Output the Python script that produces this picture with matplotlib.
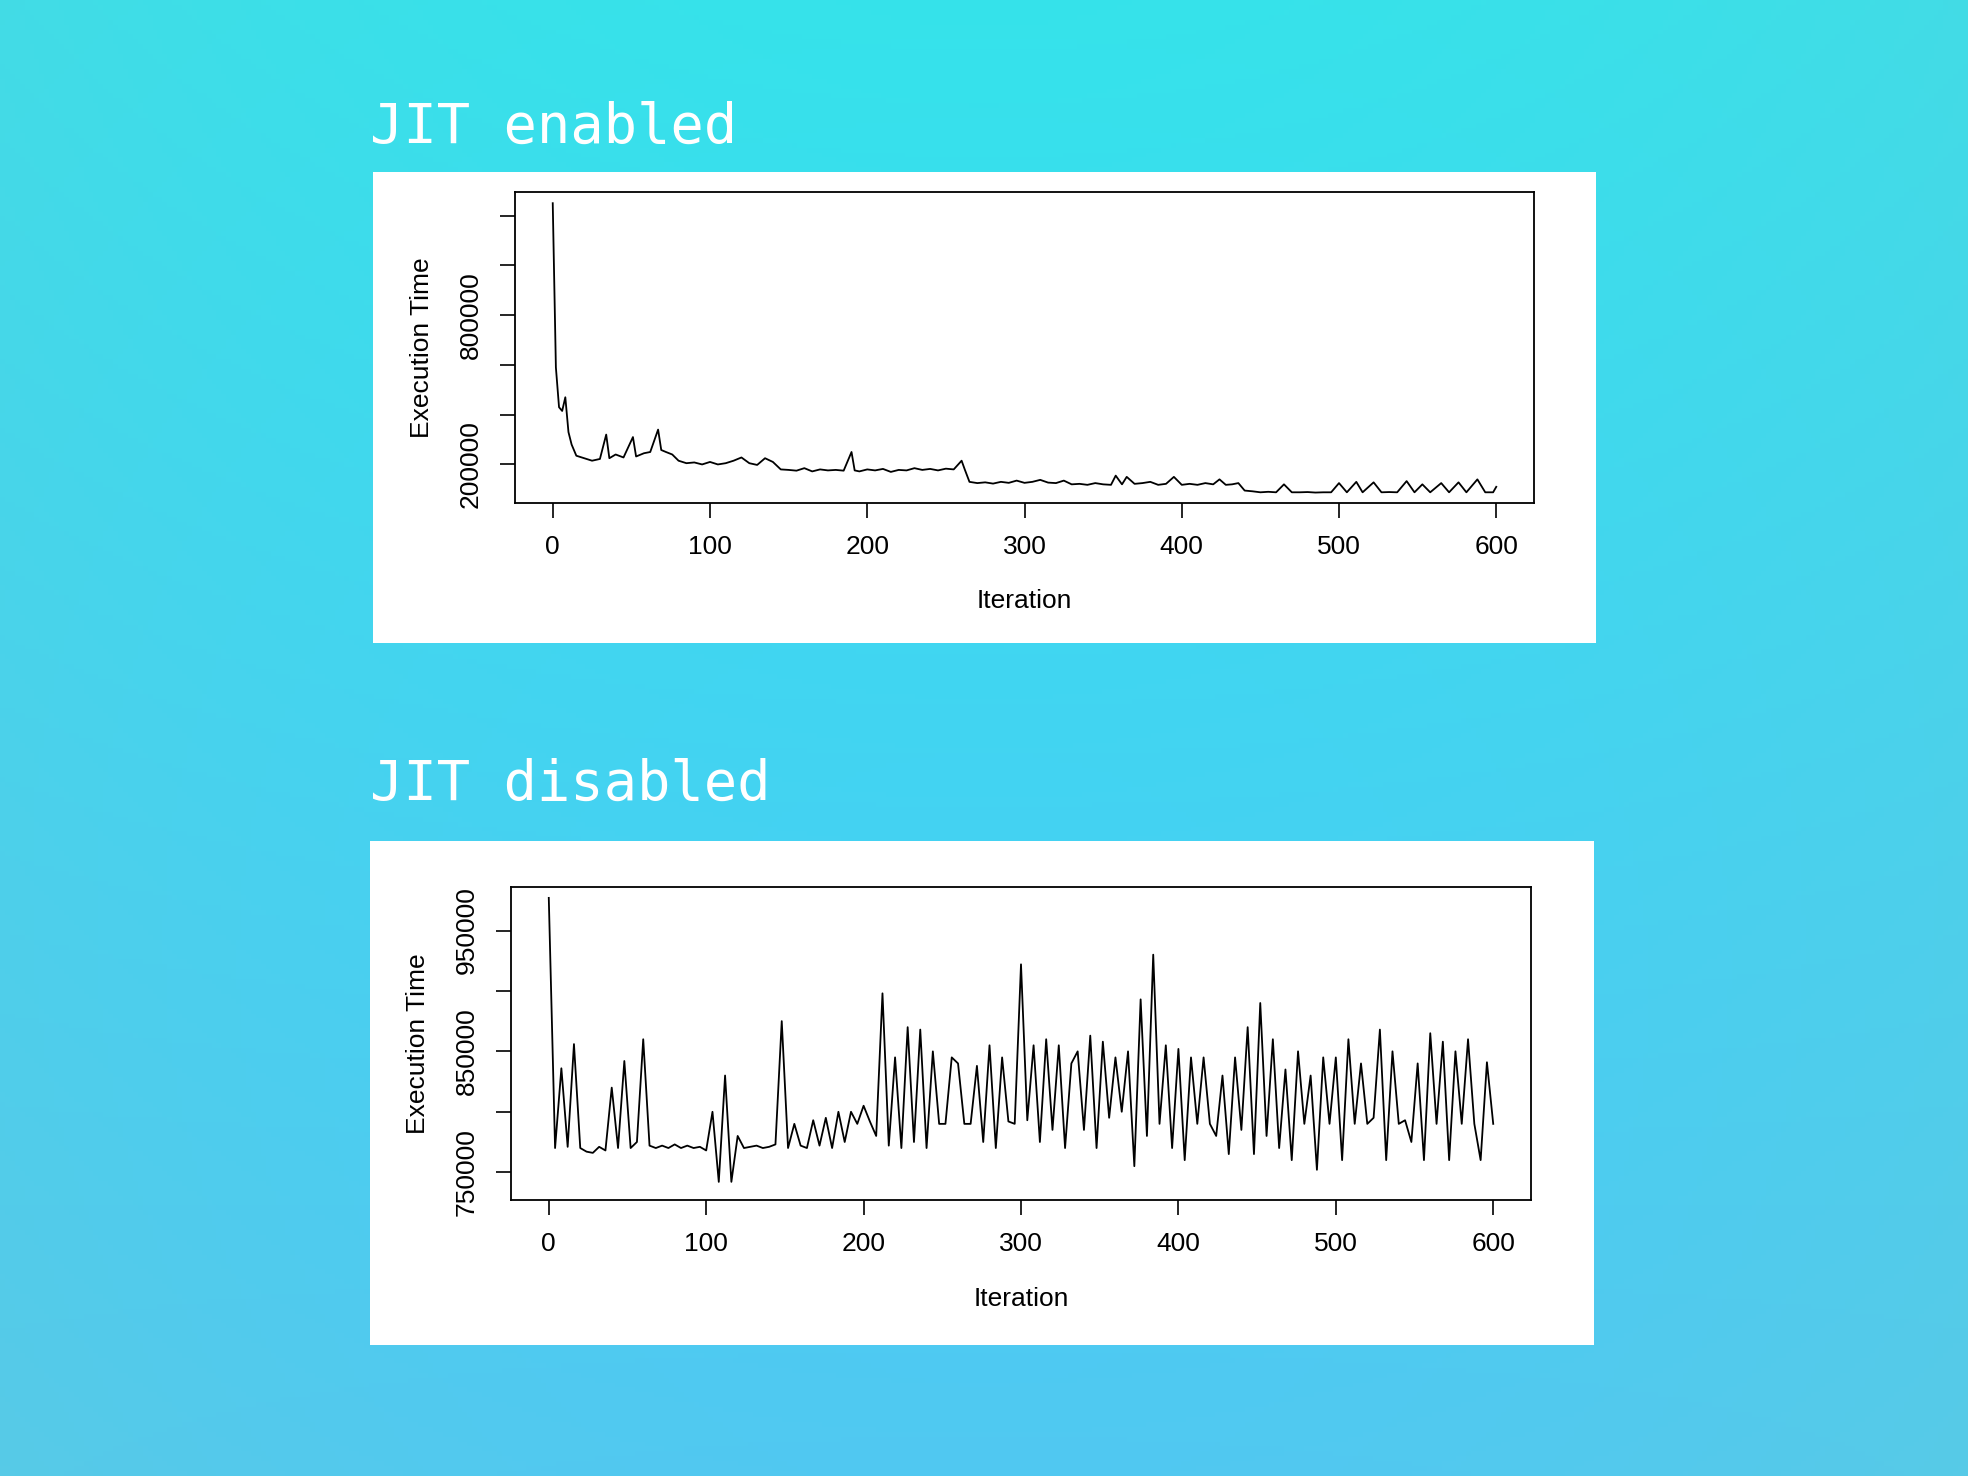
import numpy as np
import matplotlib
matplotlib.use("Agg")
import matplotlib.pyplot as plt
from matplotlib.patches import Rectangle

# ---- data (values in thousands of time units) ----
jit_on_iter = [0, 2, 4, 6, 8, 10, 12, 15, 20, 25, 30, 34, 36, 40, 45, 51, 53, 58, 62, 67, 69, 72, 76, 80, 85,
               90, 95, 100, 105, 110, 115, 120, 125, 130, 135, 140, 145, 150, 155, 160, 165, 170, 175, 180, 185,
               190, 192, 195, 200, 205, 210, 215, 220, 225, 230, 235, 240, 245, 250, 255, 260, 262, 265, 270,
               275, 280, 285, 290, 295, 300, 305, 310, 315, 320, 325, 330, 335, 340, 345, 350, 355, 358, 362,
               365, 370, 375, 380, 385, 390, 395, 400, 405, 410, 415, 420, 424, 428, 432, 436, 440, 445, 450,
               455, 460, 465, 470, 475, 480, 485, 490, 495, 500, 505, 511, 515, 522, 527, 532, 537, 543, 548,
               553, 558, 565, 570, 576, 581, 588, 593, 598, 600]
jit_on_time = [1250, 590, 430, 415, 470, 330, 280, 235, 225, 215, 222, 320, 225, 240, 228, 310, 232, 245, 250,
               340, 258, 250, 240, 215, 205, 208, 200, 210, 200, 205, 215, 228, 205, 198, 225, 210, 180, 178,
               175, 185, 172, 180, 176, 178, 175, 250, 176, 172, 180, 176, 182, 170, 178, 176, 185, 178, 182,
               176, 183, 180, 215, 180, 130, 125, 128, 123, 130, 126, 135, 126, 130, 138, 127, 125, 135, 120,
               122, 118, 125, 120, 118, 155, 120, 150, 122, 125, 130, 118, 122, 150, 118, 122, 118, 125, 120,
               140, 118, 120, 125, 95, 92, 88, 90, 88, 120, 88, 88, 89, 87, 88, 88, 125, 88, 130, 88, 128, 88,
               89, 88, 133, 88, 120, 88, 125, 88, 128, 88, 140, 88, 88, 110]

jit_off_iter = list(range(0, 601, 4))
jit_off_time = [977, 770, 836, 771, 856, 770, 767, 766, 771, 768, 820, 770, 842, 770, 775, 860, 772, 770, 772,
                770, 773, 770, 772, 770, 771, 768, 800, 742, 830, 742, 780, 770, 771, 772, 770, 771, 773, 875,
                770, 790, 772, 770, 793, 772, 795, 770, 800, 775, 800, 790, 805, 792, 780, 898, 772, 845, 770,
                870, 775, 868, 770, 850, 790, 790, 845, 840, 790, 790, 838, 775, 855, 770, 845, 792, 790, 922,
                793, 855, 775, 860, 785, 855, 770, 840, 850, 785, 863, 770, 858, 795, 845, 800, 850, 755, 893,
                780, 930, 790, 855, 770, 852, 760, 845, 790, 845, 790, 780, 830, 765, 845, 785, 870, 765, 890,
                780, 860, 770, 835, 760, 850, 790, 830, 752, 845, 790, 845, 760, 860, 790, 840, 790, 795,
                868, 760, 850, 790, 793, 775, 840, 760, 865, 790, 858, 760, 850, 790, 860, 790, 760, 841, 790]

x_ticks = [0, 100, 200, 300, 400, 500, 600]
on_yticks = [200000, 400000, 600000, 800000, 1000000, 1200000]
on_ylabels = ["200000", "", "", "800000", "", ""]
off_yticks = [750000, 800000, 850000, 900000, 950000]
off_ylabels = ["750000", "", "850000", "", "950000"]

W, H = 1968, 1476
fig = plt.figure(figsize=(W / 100, H / 100), dpi=100)

# background gradient
bg = fig.add_axes([0, 0, 1, 1])
yy, xx = np.mgrid[0:1:300j, 0:1:400j]
top = np.array([0.21, 0.89, 0.92])
bot = np.array([0.29, 0.78, 0.99])
edge = np.array([0.37, 0.80, 0.86])
t = yy[..., None]
base = top * (1 - t) + bot * t
r = np.clip(np.sqrt(((xx - 0.5) / 0.75) ** 2 + ((yy - 0.1) / 1.3) ** 2), 0, 1)[..., None]
img = base * (1 - r ** 2 * 0.7) + edge * (r ** 2 * 0.7)
bg.imshow(img, aspect="auto", extent=[0, 1, 0, 1], origin="upper")
bg.axis("off")

fig.patches.append(Rectangle((373 / W, 1 - 643 / H), 1223 / W, 471 / H, transform=fig.transFigure,
                             facecolor="white", edgecolor="none", zorder=1))
fig.patches.append(Rectangle((370 / W, 1 - 1345 / H), 1224 / W, 504 / H, transform=fig.transFigure,
                             facecolor="white", edgecolor="none", zorder=1))

fig.text(370 / W, 1 - 128 / H, "JIT enabled", fontfamily="DejaVu Sans Mono", fontsize=40,
         color="white", va="center", ha="left")
fig.text(370 / W, 1 - 785 / H, "JIT disabled", fontfamily="DejaVu Sans Mono", fontsize=40,
         color="white", va="center", ha="left")

font = "Liberation Sans"


def style(ax, yticks, ylabels, ylim):
    ax.set_xlim(-24, 624)
    ax.set_ylim(*ylim)
    ax.set_xticks(x_ticks)
    ax.set_xticklabels([str(v) for v in x_ticks], fontfamily=font, fontsize=19)
    ax.set_yticks(yticks)
    ax.set_yticklabels(ylabels, fontfamily=font, fontsize=19, rotation=90, va="center")
    ax.tick_params(direction="out", length=11, width=1.2, pad=12)
    for s in ax.spines.values():
        s.set_linewidth(1.3)
    ax.set_xlabel("Iteration", fontfamily=font, fontsize=19, labelpad=22)
    ax.set_ylabel("Execution Time", fontfamily=font, fontsize=19, labelpad=18)


ax1 = fig.add_axes([515 / W, 1 - 503 / H, 1019 / W, 311 / H])
ax1.set_zorder(2)
ax1.plot(jit_on_iter, np.array(jit_on_time) * 1000, color="black", lw=1.3)
style(ax1, on_yticks, on_ylabels, (45000, 1295000))

ax2 = fig.add_axes([511 / W, 1 - 1200 / H, 1020 / W, 313 / H])
ax2.set_zorder(2)
ax2.plot(jit_off_iter, np.array(jit_off_time) * 1000, color="black", lw=1.3)
style(ax2, off_yticks, off_ylabels, (727000, 986000))

fig.savefig("out.png", dpi=100)
